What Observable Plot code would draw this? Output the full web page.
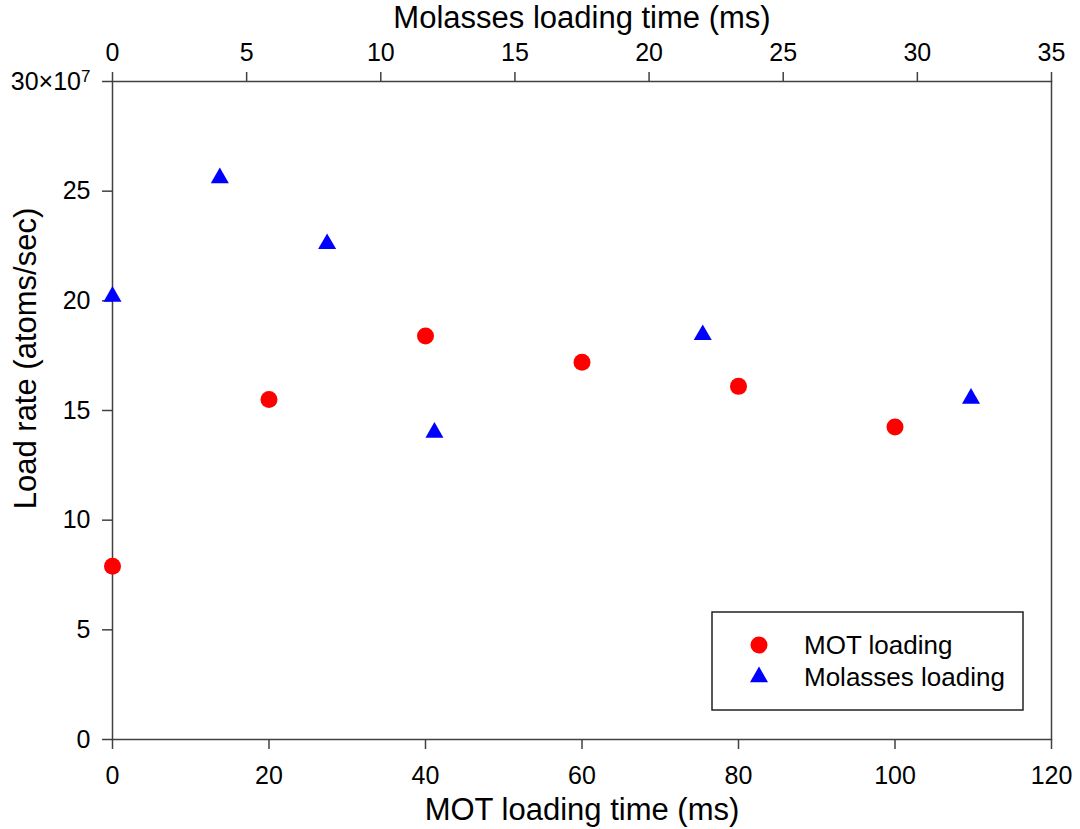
<!DOCTYPE html>
<html>
<head>
<meta charset="utf-8">
<script src="https://cdn.jsdelivr.net/npm/d3@7"></script>
<script src="https://cdn.jsdelivr.net/npm/@observablehq/plot@0.6"></script>
<style>
  html, body { margin: 0; padding: 0; background: #fff; }
  #chart { width: 1080px; height: 829px; }
</style>
</head>
<body>
<div id="chart"></div>
<script>
// MOT loading (bottom axis, ms)
const motTime = [0, 20, 40, 60, 80, 100];
const motRate = [7.9, 15.5, 18.4, 17.2, 16.1, 14.25];
// Molasses loading (top axis, ms)
const molTime = [0, 4, 8, 12, 22, 32];
const molRate = [20.2, 25.6, 22.6, 14.0, 18.45, 15.55];

const bottomTicks = [0, 20, 40, 60, 80, 100, 120];
const topTicks = [0, 5, 10, 15, 20, 25, 30, 35];
const yTicks = [0, 5, 10, 15, 20, 25, 30];

const xMax = 120, topMax = 35;
const k = xMax / topMax;

const mot = motTime.map((t, i) => ({t, rate: motRate[i]}));
const mol = molTime.map((t, i) => ({t, rate: molRate[i]}));

const axisColor = "#404040";

const plot = Plot.plot({
  width: 1080,
  height: 829,
  marginLeft: 112,
  marginRight: 29,
  marginTop: 81,
  marginBottom: 90,
  style: {fontFamily: "'Liberation Sans', Arial, sans-serif", fontSize: "25px", color: "#000", background: "#fff"},
  x: {domain: [0, xMax]},
  y: {domain: [0, 30]},
  marks: [
    Plot.frame({stroke: axisColor, strokeWidth: 1.5}),
    Plot.axisX({anchor: "bottom", ticks: bottomTicks, tickSize: 10, tickPadding: 17, stroke: axisColor, strokeWidth: 1.5,
      label: "MOT loading time (ms)", labelAnchor: "center", labelOffset: 80, labelArrow: "none", fontSize: 25}),
    Plot.axisX({anchor: "top", ticks: topTicks.map(v => v * k), tickFormat: d => String(Math.round(d / k)),
      tickSize: 10, tickPadding: 11, stroke: axisColor, strokeWidth: 1.5,
      label: "Molasses loading time (ms)", labelAnchor: "center", labelOffset: 76, labelArrow: "none", fontSize: 25}),
    Plot.axisY({ticks: yTicks, tickSize: 10, tickPadding: 12, stroke: axisColor, strokeWidth: 1.5,
      tickFormat: d => d === 30 ? "30×10" : String(d),
      label: "Load rate (atoms/sec)", labelAnchor: "center", labelOffset: 99, labelArrow: "none", fontSize: 25}),
    Plot.dot(mot, {x: "t", y: "rate", r: 8.5, fill: "#ff0000", symbol: "circle"}),
    Plot.dot(mol, {x: d => d.t * k, y: "rate", r: 6.7, fill: "#0000ff", symbol: "triangle"})
  ]
});

document.getElementById("chart").appendChild(plot);

const svg = d3.select(plot);
// axis title size
svg.selectAll("g[aria-label='x-axis label'] text, g[aria-label='y-axis label'] text")
  .style("font-size", "31px");
// shift y title upward to match reference placement
svg.selectAll("g[aria-label='y-axis label']").each(function() {
  const t = this.getAttribute("transform") || "";
  this.setAttribute("transform", (t + " translate(0,-52)").trim());
});
// superscript exponent
svg.selectAll("text").filter(function() { return this.textContent === "30×10"; })
  .append("tspan").attr("dy", "-0.45em").style("font-size", "17px").text("7");

// legend
const lg = svg.append("g").attr("class", "legend");
const x0 = 712, y0 = 612;
lg.append("rect").attr("x", x0).attr("y", y0).attr("width", 311).attr("height", 98)
  .attr("fill", "#fff").attr("stroke", "#222").attr("stroke-width", 1.5);
const entries = [
  {label: "MOT loading", color: "#ff0000", sym: d3.symbolCircle, size: Math.PI * 8.5 * 8.5},
  {label: "Molasses loading", color: "#0000ff", sym: d3.symbolTriangle, size: Math.PI * 6.7 * 6.7}
];
entries.forEach((e, i) => {
  const cy = y0 + 33 + i * 32;
  lg.append("path").attr("d", d3.symbol(e.sym, e.size)()).attr("transform", `translate(${x0 + 47},${cy})`).attr("fill", e.color);
  lg.append("text").attr("x", x0 + 92).attr("y", cy).attr("dy", "0.35em").attr("text-anchor", "start")
    .style("font-size", "26px").attr("fill", "#000").text(e.label);
});
</script>
</body>
</html>
